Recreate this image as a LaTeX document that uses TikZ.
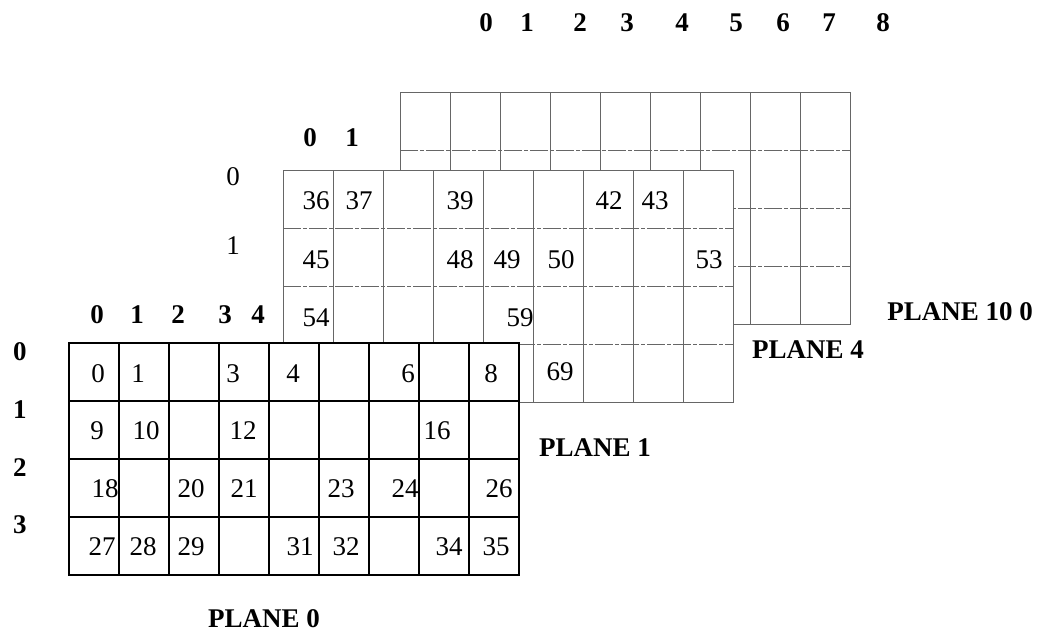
\documentclass[tikz,border=0pt]{standalone}
\usepackage{fontspec}
\setmainfont{Liberation Serif}
\usetikzlibrary{positioning}
\tikzset{
  cellnum/.style={font=\fontsize{13.5}{16}\selectfont, inner sep=0pt},
  rownum/.style={font=\fontsize{13.5}{16}\selectfont, inner sep=0pt},
  axisnum/.style={font=\fontsize{13.5}{16}\selectfont\bfseries, inner sep=0pt},
  planelbl/.style={font=\fontsize{13.5}{16}\selectfont\bfseries, inner sep=0pt},
  frontgrid/.style={line width=1.2pt, black},
  backgrid/.style={line width=0.5pt, black!60},
  backrow/.style={backgrid, dash pattern=on 9pt off 1pt on 2pt off 1pt},
}
% one plane: 9 columns x 4 rows, top left corner at (#1,#2)
\newcommand{\planegrid}[4]{%
  \filldraw[#3, fill=white] (#1,#2) rectangle ++(450,232);
  \foreach \c in {1,...,8}
    \draw[#3] ({#1+50*\c},#2) -- ++(0,232);
  \foreach \r in {1,2,3}
    \draw[#4] (#1,{#2+58*\r}) -- ++(450,0);
}

\begin{document}
\begin{tikzpicture}[x=0.5pt, y=-0.5pt]
    \useasboundingbox (0,0) rectangle (1044,634);
    % planes, back to front
    \planegrid{400}{92}{backgrid}{backrow}
    \planegrid{283}{170}{backgrid}{backrow}
    \planegrid{69}{343}{frontgrid}{frontgrid}
    % column numbers
    \foreach \x/\t [count=\i] in {486/0, 527/1, 580/2, 627/3, 682/4, 736/5, 783/6, 829/7, 883/8}
      \node[axisnum] (topc\i) at (\x,23) {\t};
    \node[axisnum] (midc0) at (310,138) {0};
    \node[axisnum] (midc1) at (352,138) {1};
    \foreach \x/\t [count=\i] in {97/0, 137/1, 178/2, 225/3, 258/4}
      \node[axisnum] (frontc\i) at (\x,315) {\t};
    % row numbers
    \node[rownum] (midr0) at (233,177) {0};
    \node[rownum] (midr1) at (233,246) {1};
    \foreach \y/\t in {352/0, 410/1, 468/2, 525/3}
      \node[axisnum] (frontr\t) at (20,\y) {\t};
    % cell numbers, plane 1
    \foreach \x/\y/\t in {316/201/36, 359/201/37, 460/201/39, 609/201/42, 655/201/43,
                          316/260/45, 460/260/48, 507/260/49, 561/260/50, 709/260/53,
                          316/318/54, 520/318/59, 560/372/69}
      \node[cellnum] (n\t) at (\x,\y) {\t};
    % cell numbers, plane 0
    \foreach \x/\y/\t in {98/374/0, 138/374/1, 233/374/3, 293/374/4, 408/374/6, 491/374/8,
                          97/431/9, 146/431/10, 243/431/12, 437/431/16,
                          105/489/18, 191/489/20, 244/489/21, 341/489/23, 405/489/24, 499/489/26,
                          102/547/27, 143/547/28, 191/547/29, 300/547/31, 346/547/32, 449/547/34, 496/547/35}
      \node[cellnum] (n\t) at (\x,\y) {\t};
    % plane names
    \node[planelbl] (pl0) at (264,619) {PLANE 0};
    \node[planelbl] (pl1) at (595,448) {PLANE 1};
    \node[planelbl] (pl4) at (808,350) {PLANE 4};
    \node[planelbl] (pl100) at (960,312) {PLANE 10 0};
  \end{tikzpicture}
\end{document}
